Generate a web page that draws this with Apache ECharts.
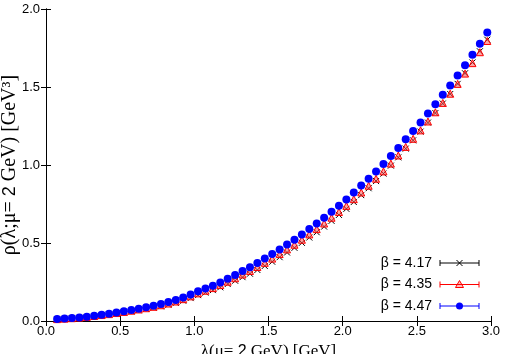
<!DOCTYPE html>
<html>
<head>
<meta charset="utf-8">
<script src="https://cdn.jsdelivr.net/npm/echarts@6/dist/echarts.min.js"></script>
<style>html,body{margin:0;padding:0;background:#fff;}#c{width:506px;height:354px;}</style>
</head>
<body>
<div id="c"></div>
<script>
var lambdaVals = [0.075,0.125,0.175,0.225,0.275,0.325,0.375,0.425,0.475,0.525,0.575,0.625,0.675,0.725,0.775,0.825,0.875,0.925,0.975,1.025,1.075,1.125,1.175,1.225,1.275,1.325,1.375,1.425,1.475,1.525,1.575,1.625,1.675,1.725,1.775,1.825,1.875,1.925,1.975,2.025,2.075,2.125,2.175,2.225,2.275,2.325,2.375,2.425,2.475,2.525,2.575,2.625,2.675,2.725,2.775,2.825,2.875,2.925,2.975];
var rho417 = [0.011,0.014,0.017,0.020,0.025,0.030,0.036,0.042,0.048,0.055,0.062,0.069,0.077,0.085,0.094,0.104,0.116,0.130,0.147,0.166,0.182,0.198,0.216,0.237,0.258,0.281,0.303,0.327,0.353,0.380,0.409,0.439,0.469,0.501,0.535,0.569,0.605,0.642,0.680,0.719,0.763,0.807,0.851,0.897,0.945,0.996,1.049,1.105,1.158,1.214,1.272,1.333,1.394,1.455,1.520,1.588,1.657,1.729,1.803];
var rho435 = [0.012,0.015,0.018,0.022,0.026,0.032,0.038,0.044,0.051,0.058,0.066,0.074,0.082,0.091,0.101,0.112,0.125,0.140,0.158,0.177,0.194,0.211,0.230,0.252,0.274,0.298,0.321,0.346,0.373,0.400,0.429,0.459,0.489,0.521,0.555,0.589,0.625,0.662,0.699,0.738,0.781,0.824,0.867,0.912,0.959,1.009,1.061,1.116,1.168,1.222,1.279,1.338,1.398,1.457,1.520,1.586,1.653,1.723,1.795];
var rho447 = [0.013,0.016,0.019,0.023,0.028,0.034,0.040,0.047,0.054,0.062,0.070,0.079,0.088,0.098,0.109,0.121,0.135,0.151,0.170,0.190,0.208,0.226,0.247,0.271,0.295,0.320,0.345,0.372,0.400,0.429,0.459,0.490,0.521,0.555,0.590,0.625,0.662,0.700,0.739,0.779,0.823,0.868,0.912,0.958,1.006,1.057,1.109,1.165,1.218,1.272,1.330,1.390,1.450,1.510,1.573,1.640,1.707,1.778,1.850];
var legendLabels = ['β = 4.17', 'β = 4.35', 'β = 4.47'];

function pairs(ys){ return lambdaVals.map(function(x,i){ return [x, ys[i]]; }); }

var chart = echarts.init(document.getElementById('c'), null, {renderer:'canvas'});
var sans = 'Liberation Sans, Arial, Helvetica, sans-serif';
var serif = 'Liberation Serif, Times New Roman, serif';
var axisCommon = {
  min: 0, interval: 0.5,
  axisLine: {show: true, lineStyle: {color: '#000', width: 1}},
  axisTick: {show: true, inside: true, length: 5, lineStyle: {color: '#000'}},
  splitLine: {show: false}
};
var crossPath = 'path://M0,0L10,10M10,0L0,10';

var lx0 = 440, lx1 = 479, lxm = 459.5, rows = [263, 284.5, 306];
var g = [];
var cols = ['#000000', '#ff0000', '#0000ff'];
for (var i = 0; i < 3; i++) {
  var y = rows[i];
  g.push({type:'text', x: 432, y: y, style:{text: legendLabels[i], font: '14px ' + sans, fill:'#000', textAlign:'right', textVerticalAlign:'middle'}});
  g.push({type:'line', shape:{x1:lx0, y1:y, x2:lx1, y2:y}, style:{stroke: cols[i], lineWidth:1}});
  g.push({type:'line', shape:{x1:lx0, y1:y-3, x2:lx0, y2:y+3}, style:{stroke: cols[i], lineWidth:1}});
  g.push({type:'line', shape:{x1:lx1, y1:y-3, x2:lx1, y2:y+3}, style:{stroke: cols[i], lineWidth:1}});
}
g.push({type:'line', shape:{x1:lxm-3, y1:rows[0]-3, x2:lxm+3, y2:rows[0]+3}, style:{stroke:'#000', lineWidth:1}});
g.push({type:'line', shape:{x1:lxm-3, y1:rows[0]+3, x2:lxm+3, y2:rows[0]-3}, style:{stroke:'#000', lineWidth:1}});
g.push({type:'polygon', shape:{points:[[lxm, rows[1]-4],[lxm-4, rows[1]+3],[lxm+4, rows[1]+3]]}, style:{stroke:'#ff0000', fill:'rgba(255,0,0,0.25)', lineWidth:1}});
g.push({type:'circle', shape:{cx:lxm, cy:rows[2], r:3.5}, style:{fill:'#0000ff'}});

chart.setOption({
  animation: false,
  backgroundColor: '#fff',
  grid: {left: 46, right: 15, top: 9, bottom: 33, containLabel: false, outerBoundsMode: 'none'},
  xAxis: [
    Object.assign({}, axisCommon, {
      type: 'value', max: 3, position: 'bottom',
      axisLabel: {show: true, margin: 4, fontSize: 13, fontFamily: sans, color: '#000', formatter: function(v){ return v.toFixed(1); }},
      name: '{s|λ(μ= }{n|2}{s| GeV) [GeV]}', nameLocation: 'middle', nameGap: 19,
      nameTextStyle: {rich: {s: {fontFamily: serif, fontSize: 17, color: '#000'}, n: {fontFamily: sans, fontSize: 16, color: '#000'}}}
    }),
    Object.assign({}, axisCommon, {type: 'value', max: 3, position: 'top', axisLabel: {show: false}})
  ],
  yAxis: [
    Object.assign({}, axisCommon, {
      type: 'value', max: 2, position: 'left',
      axisLabel: {show: true, margin: 6, fontSize: 13, fontFamily: sans, color: '#000', formatter: function(v){ return v.toFixed(1); }},
      name: '{s|ρ(λ;μ= }{n|2}{s| GeV) [GeV³]}', nameLocation: 'middle', nameGap: 26, nameRotate: 90,
      nameMoveOverlap: false,
      nameTextStyle: {rich: {s: {fontFamily: serif, fontSize: 20, color: '#000'}, n: {fontFamily: sans, fontSize: 18, color: '#000'}}}
    }),
    Object.assign({}, axisCommon, {type: 'value', max: 2, position: 'right', axisLabel: {show: false}})
  ],
  series: [
    {type: 'scatter', name: legendLabels[0], data: pairs(rho417), symbol: crossPath, symbolSize: 6,
     itemStyle: {color: '#000', borderColor: '#000', borderWidth: 1, opacity: 1}},
    {type: 'scatter', name: legendLabels[1], data: pairs(rho435), symbol: 'triangle', symbolSize: 7,
     itemStyle: {color: 'rgba(255,90,90,0.55)', borderColor: '#ff0000', borderWidth: 1, opacity: 1}},
    {type: 'scatter', name: legendLabels[2], data: pairs(rho447), symbol: 'circle', symbolSize: 8,
     itemStyle: {color: '#0000ff', opacity: 1}}
  ],
  graphic: g
});
</script>
</body>
</html>
